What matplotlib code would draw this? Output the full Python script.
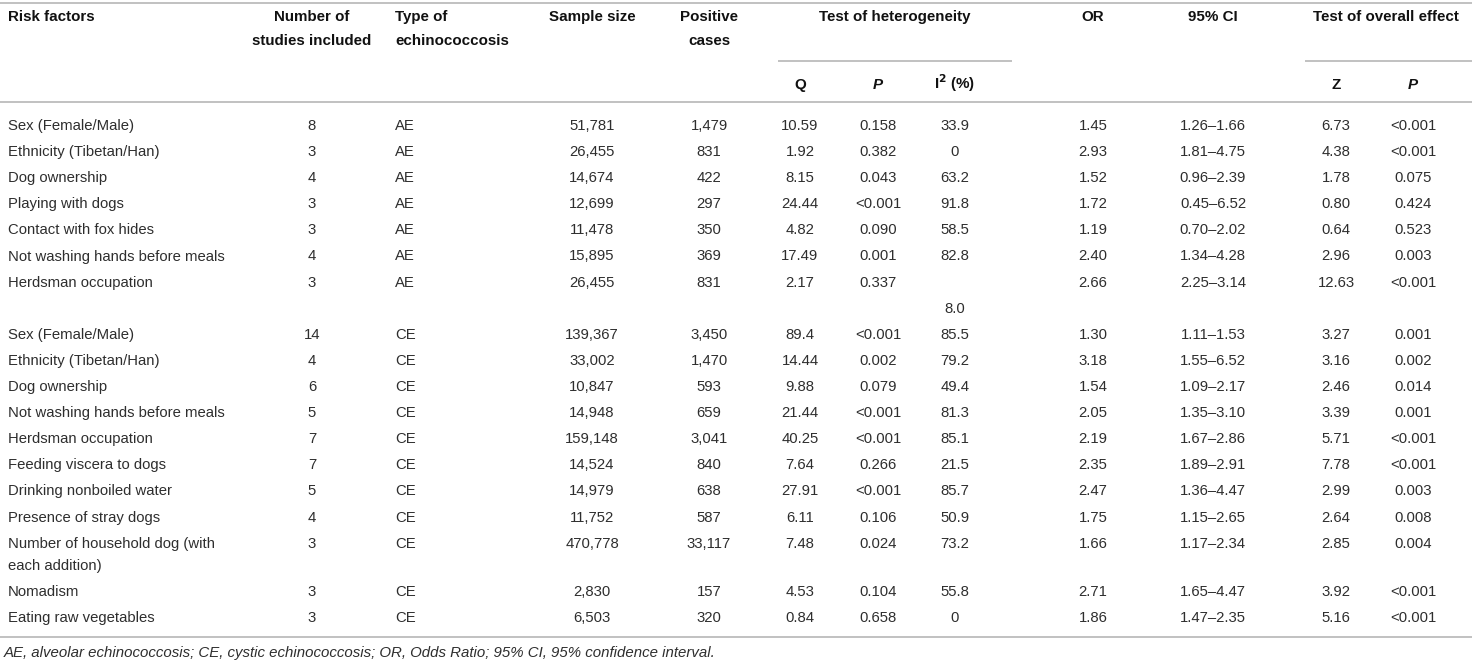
import matplotlib
matplotlib.use("Agg")
import matplotlib.pyplot as plt

# ─────────────────────────────────────────────
# Table data
# ─────────────────────────────────────────────
risk_factors = [
    "Sex (Female/Male)", "Ethnicity (Tibetan/Han)", "Dog ownership", "Playing with dogs",
    "Contact with fox hides", "Not washing hands before meals", "Herdsman occupation",
    "",
    "Sex (Female/Male)", "Ethnicity (Tibetan/Han)", "Dog ownership",
    "Not washing hands before meals", "Herdsman occupation", "Feeding viscera to dogs",
    "Drinking nonboiled water", "Presence of stray dogs",
    "Number of household dog (with\neach addition)", "Nomadism", "Eating raw vegetables",
]
n_studies = ["8", "3", "4", "3", "3", "4", "3", "",
             "14", "4", "6", "5", "7", "7", "5", "4", "3", "3", "3"]
echino_type = ["AE"] * 7 + [""] + ["CE"] * 11
sample_size = ["51,781", "26,455", "14,674", "12,699", "11,478", "15,895", "26,455", "",
               "139,367", "33,002", "10,847", "14,948", "159,148", "14,524", "14,979",
               "11,752", "470,778", "2,830", "6,503"]
positive_cases = ["1,479", "831", "422", "297", "350", "369", "831", "",
                  "3,450", "1,470", "593", "659", "3,041", "840", "638", "587",
                  "33,117", "157", "320"]
q_vals = ["10.59", "1.92", "8.15", "24.44", "4.82", "17.49", "2.17", "",
          "89.4", "14.44", "9.88", "21.44", "40.25", "7.64", "27.91", "6.11",
          "7.48", "4.53", "0.84"]
p_het = ["0.158", "0.382", "0.043", "<0.001", "0.090", "0.001", "0.337", "",
         "<0.001", "0.002", "0.079", "<0.001", "<0.001", "0.266", "<0.001", "0.106",
         "0.024", "0.104", "0.658"]
i2_vals = ["33.9", "0", "63.2", "91.8", "58.5", "82.8", "", "8.0",
           "85.5", "79.2", "49.4", "81.3", "85.1", "21.5", "85.7", "50.9",
           "73.2", "55.8", "0"]
or_vals = ["1.45", "2.93", "1.52", "1.72", "1.19", "2.40", "2.66", "",
           "1.30", "3.18", "1.54", "2.05", "2.19", "2.35", "2.47", "1.75",
           "1.66", "2.71", "1.86"]
ci_vals = ["1.26–1.66", "1.81–4.75", "0.96–2.39", "0.45–6.52", "0.70–2.02", "1.34–4.28",
           "2.25–3.14", "",
           "1.11–1.53", "1.55–6.52", "1.09–2.17", "1.35–3.10", "1.67–2.86", "1.89–2.91",
           "1.36–4.47", "1.15–2.65", "1.17–2.34", "1.65–4.47", "1.47–2.35"]
z_vals = ["6.73", "4.38", "1.78", "0.80", "0.64", "2.96", "12.63", "",
          "3.27", "3.16", "2.46", "3.39", "5.71", "7.78", "2.99", "2.64",
          "2.85", "3.92", "5.16"]
p_overall = ["<0.001", "<0.001", "0.075", "0.424", "0.523", "0.003", "<0.001", "",
             "0.001", "0.002", "0.014", "0.001", "<0.001", "<0.001", "0.003", "0.008",
             "0.004", "<0.001", "<0.001"]

footnote = ("AE, alveolar echinococcosis; CE, cystic echinococcosis; OR, Odds Ratio; "
            "95% CI, 95% confidence interval.")

# ─────────────────────────────────────────────
# Layout (pixel coordinates)
# ─────────────────────────────────────────────
W, H = 1472, 664
FIRST_ROW = 125
ROW_STEP = 26.1
EXTRA_LINE = 22
HEAD_LINE = 24

TXT = "#2e2e2e"
RULE = "#bcbcbc"
BODY_FONT = ["Liberation Sans", "DejaVu Sans"]
HEAD_FONT = ["Liberation Sans Narrow", "Liberation Sans", "DejaVu Sans"]
BODY_SIZE = 10.7
HEAD_SIZE = 10.9

plt.rcParams["mathtext.fontset"] = "custom"
plt.rcParams["mathtext.rm"] = "Liberation Sans Narrow"
plt.rcParams["mathtext.bf"] = "Liberation Sans Narrow:bold"

fig = plt.figure(figsize=(W / 100, H / 100), dpi=100)
ax = fig.add_axes([0, 0, 1, 1])
ax.set_xlim(0, W)
ax.set_ylim(H, 0)
ax.axis("off")


def rule(y, x0=0, x1=W):
    ax.plot([x0, x1], [y, y], color=RULE, linewidth=1.3, solid_capstyle="butt")


def head(x, y, s, ha="center", style="normal"):
    # one text per line so the line gap follows the table, not the font
    for k, line in enumerate(s.split("\n")):
        ax.text(x, y + k * HEAD_LINE + 5, line, ha=ha, va="baseline",
                fontsize=HEAD_SIZE, fontweight="bold", family=HEAD_FONT,
                color="#111111", style=style)


# rules
rule(3)
rule(61, 778, 1012)
rule(61, 1305, W)
rule(102)
rule(637)

# header
head(8, 16, "Risk factors", ha="left")
head(312, 16, "Number of\nstudies included")
head(395, 16, "Type of\nechinococcosis", ha="left")
head(592, 16, "Sample size")
head(709, 16, "Positive\ncases")
head(895, 16, "Test of heterogeneity")
head(1093, 16, "OR")
head(1213, 16, "95% CI")
head(1386, 16, "Test of overall effect")
head(800, 84, "Q")
head(878, 84, "P", style="italic")
head(955, 84, r"I$^{\mathbf{2}}$ (%)")
head(1336, 84, "Z")
head(1413, 84, "P", style="italic")

# body
columns = [
    (risk_factors, 8, "left"),
    (n_studies, 312, "center"),
    (echino_type, 395, "left"),
    (sample_size, 592, "center"),
    (positive_cases, 709, "center"),
    (q_vals, 800, "center"),
    (p_het, 878, "center"),
    (i2_vals, 955, "center"),
    (or_vals, 1093, "center"),
    (ci_vals, 1213, "center"),
    (z_vals, 1336, "center"),
    (p_overall, 1413, "center"),
]

row_y = []
y = FIRST_ROW
for name in risk_factors:
    row_y.append(y)
    y += ROW_STEP + EXTRA_LINE * name.count("\n")

for values, x, ha in columns:
    for yy, s in zip(row_y, values):
        for k, line in enumerate(s.split("\n")):
            if not line:
                continue
            ax.text(x, yy + k * EXTRA_LINE + 5, line, ha=ha, va="baseline",
                    fontsize=BODY_SIZE, family=BODY_FONT, color=TXT)

ax.text(4, 652 + 5, footnote, ha="left", va="baseline", fontsize=10.8,
        family=BODY_FONT, style="italic", color=TXT)

fig.savefig("out.png", dpi=100)
